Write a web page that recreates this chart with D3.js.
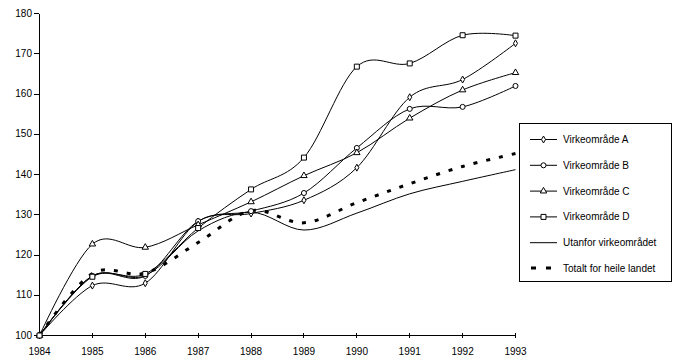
<!DOCTYPE html>
<meta charset="utf-8">
<style>
    body { margin: 0; background: #fff; }
    svg { font-family: "Liberation Sans", Arial, sans-serif; }
    .axis text { font-size: 10px; fill: #000; }
    .axis path, .axis line { stroke: #000; stroke-width: 1; shape-rendering: crispEdges; }
    .mark { fill: #fff; stroke: #000; stroke-width: 1; }
</style>
<svg width="675" height="364"></svg>
<script src="https://d3js.org/d3.v7.min.js"></script>
<script>

    // data
    var years = [1984, 1985, 1986, 1987, 1988, 1989, 1990, 1991, 1992, 1993];
    var omradeA = [100, 112.4, 113.0, 128.3, 130.3, 133.6, 141.7, 159.2, 163.6, 172.6];
    var omradeB = [100, 114.8, 114.8, 128.4, 130.9, 135.4, 146.6, 156.3, 156.8, 162.0];
    var omradeC = [100, 122.7, 121.9, 127.5, 133.2, 139.7, 145.4, 154.0, 161.0, 165.3];
    var omradeD = [100, 114.6, 115.3, 126.7, 136.3, 144.2, 166.8, 167.6, 174.6, 174.5];
    var utanfor = [100, 114.8, 114.9, 126.0, 130.6, 126.2, 130.4, 135.2, 138.3, 141.2];
    var totalt  = [100, 115.4, 115.5, 123.1, 131.0, 128.0, 133.0, 137.7, 142.0, 145.2];
    var yTicks = [100, 110, 120, 130, 140, 150, 160, 170, 180];

    var series = [
        { name: "Virkeområde A", values: omradeA, mark: "diamond" },
        { name: "Virkeområde B", values: omradeB, mark: "circle" },
        { name: "Virkeområde C", values: omradeC, mark: "triangle" },
        { name: "Virkeområde D", values: omradeD, mark: "square" },
        { name: "Utanfor virkeområdet", values: utanfor, mark: null },
        { name: "Totalt for heile landet", values: totalt, mark: null, dashed: true }
    ];

    var svg = d3.select("svg");

    var x = d3.scaleLinear().domain([1984, 1993]).range([39.5, 515.5]);
    var y = d3.scaleLinear().domain([100, 180]).range([335.5, 13.5]);

    var yAxis = d3.axisLeft(y)
        .tickValues(yTicks)
        .tickSize(5)
        .tickSizeOuter(0)
        .tickPadding(2);

    var xAxis = d3.axisBottom(x)
        .tickValues(years)
        .tickFormat(d3.format("d"))
        .tickSize(3)
        .tickSizeOuter(0)
        .tickPadding(10);

    svg.append("g")
        .attr("class", "axis")
        .attr("transform", "translate(" + (x(1984) - 0.5) + ",-0.5)")
        .call(yAxis);

    var gx = svg.append("g")
        .attr("class", "axis")
        .attr("transform", "translate(-0.5," + (y(100) - 0.5) + ")")
        .call(xAxis);
    // excel style ticks cross the axis
    gx.selectAll(".tick line").attr("y1", -2).attr("y2", 3);

    var line = d3.line()
        .x(function (d, i) { return x(years[i]); })
        .y(function (d) { return y(d); })
        .curve(d3.curveCatmullRom.alpha(0));

    var symbols = {
        diamond: d3.symbol().type(d3.symbolDiamond).size(14),
        circle: d3.symbol().type(d3.symbolCircle).size(20),
        triangle: d3.symbol().type(d3.symbolTriangle).size(18),
        square: d3.symbol().type(d3.symbolSquare).size(25)
    };

    // draw order: plain lines first
    var order = [4, 5, 0, 1, 2, 3];
    order.forEach(function (k) {
        var s = series[k];
        var path = svg.append("path")
            .attr("d", line(s.values))
            .style("fill", "none")
            .style("stroke", "#000")
            .style("stroke-width", s.dashed ? 3 : 1);
        if (s.dashed) {
            path.style("stroke-dasharray", "4,9");
        }
        if (s.mark) {
            svg.selectAll(".m" + k)
                .data(s.values)
                .enter().append("path")
                .attr("class", "mark m" + k)
                .attr("transform", function (d, i) { return "translate(" + x(years[i]) + "," + y(d) + ")"; })
                .attr("d", symbols[s.mark]);
        }
    });

    // legend
    var lg = svg.append("g");
    lg.append("rect")
        .attr("x", 519.5).attr("y", 123.5)
        .attr("width", 152).attr("height", 158)
        .attr("fill", "#fff").attr("stroke", "#000");

    var rowY = d3.scalePoint().domain(d3.range(series.length)).range([139, 268]);

    series.forEach(function (s, i) {
        var ry = rowY(i);
        if (s.dashed) {
            lg.append("line")
                .attr("x1", 531).attr("x2", 554)
                .attr("y1", ry).attr("y2", ry)
                .attr("stroke", "#000").attr("stroke-width", 3)
                .attr("stroke-dasharray", "5,10");
        } else {
            lg.append("line")
                .attr("x1", 530).attr("x2", 557)
                .attr("y1", ry + 0.5).attr("y2", ry + 0.5)
                .attr("stroke", "#000");
        }
        if (s.mark) {
            lg.append("path")
                .attr("class", "mark")
                .attr("transform", "translate(543.5," + (ry + 0.5) + ")")
                .attr("d", symbols[s.mark]);
        }
        lg.append("text")
            .attr("x", 563)
            .attr("y", ry + 4)
            .attr("font-size", "10px")
            .text(s.name);
    });

</script>
